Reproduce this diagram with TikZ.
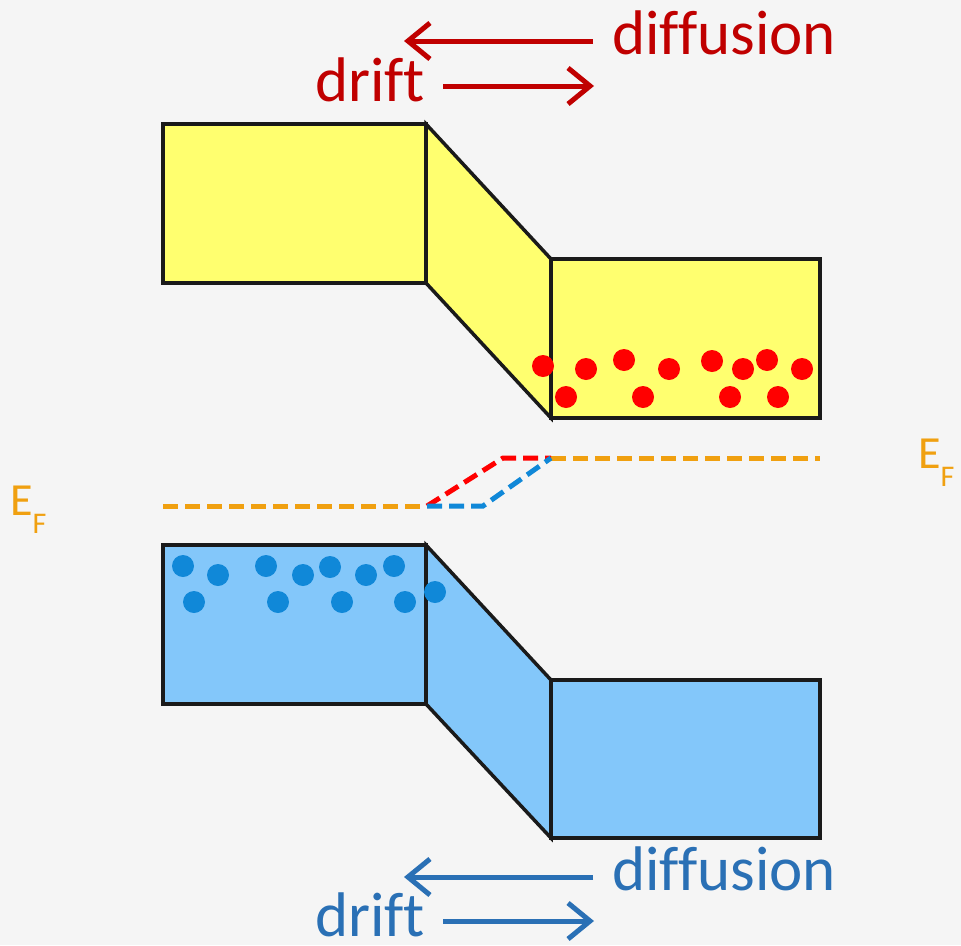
\documentclass[tikz,border=0pt]{standalone}
\usepackage{fontspec}
\setmainfont[Ligatures={NoCommon}]{Carlito}
\usetikzlibrary{arrows.meta}
\definecolor{bg}{RGB}{245,245,245}
\definecolor{band}{RGB}{255,255,111}
\definecolor{vband}{RGB}{131,199,250}
\definecolor{edot}{RGB}{255,0,0}
\definecolor{hdot}{RGB}{16,136,216}
\definecolor{fermi}{RGB}{240,160,16}
\definecolor{redtxt}{RGB}{192,0,0}
\definecolor{bluetxt}{RGB}{42,112,181}
\definecolor{outline}{RGB}{26,26,26}
\tikzset{
  bandbox/.style={draw=outline,line width=3.5pt,line join=miter},
  fermiline/.style={line width=5pt,dash pattern=on 15pt off 7pt},
  flowarrow/.style={line width=5pt,-{Straight Barb[length=22pt,width=36pt,line width=5pt]}},
  bigtext/.style={font=\fontsize{63}{70}\selectfont,inner sep=0pt,anchor=base west},
  eftext/.style={font=\fontsize{46}{50}\selectfont,text=fermi,inner sep=0pt,anchor=base west},
  electron/.style={circle,fill=edot,minimum size=22pt,inner sep=0pt},
  hole/.style={circle,fill=hdot,minimum size=22pt,inner sep=0pt}
}
\begin{document}
\begin{tikzpicture}[x=1pt,y=-1pt]
\fill[bg] (0,0) rectangle (961,945);
\useasboundingbox (0,0) rectangle (961,945);
% conduction band
\filldraw[band,bandbox] (163,124) rectangle (426,283);
\filldraw[band,bandbox] (426,124) -- (551,259) -- (551,418) -- (426,283) -- cycle;
\filldraw[band,bandbox] (551,259) rectangle (820,418);
% valence band
\filldraw[vband,bandbox] (163,545) rectangle (426,704);
\filldraw[vband,bandbox] (426,545) -- (551,680) -- (551,838) -- (426,704) -- cycle;
\filldraw[vband,bandbox] (551,680) rectangle (820,838);
% electrons
\foreach \x/\y [count=\i] in {543/366,586/369,624/360,669/369,712/361,743/369,767/360,802/369,566/397,643/397,730/397,778/397}
  \node[electron] (e\i) at (\x,\y) {};
% holes
\foreach \x/\y [count=\i] in {183/566,218/575,266/566,303/575,330/567,366/575,394/566,194/602,278/602,342/602,405/602,435/592}
  \node[hole] (h\i) at (\x,\y) {};
% Fermi levels
\coordinate (fl0) at (163,506);
\coordinate (fl1) at (427,506);
\coordinate (fr0) at (551,458);
\coordinate (fr1) at (820,458);
\coordinate (rk) at (503,458);
\coordinate (bk) at (483,506);
\draw[fermiline,fermi] (fl0) -- (fl1);
\draw[fermiline,fermi] (fr0) -- (fr1);
\draw[fermiline,edot] (fl1) -- (rk) -- (fr0);
\draw[fermiline,hdot] (fl1) -- (bk) -- (fr0);
\node[eftext] (efl) at (10,515) {E\raisebox{-0.4em}{\fontsize{30}{30}\selectfont F}};
\node[eftext] (efr) at (918,468) {E\raisebox{-0.4em}{\fontsize{30}{30}\selectfont F}};
% top arrows
\coordinate (td0) at (593,41);
\coordinate (td1) at (404,41);
\coordinate (tr0) at (443,86);
\coordinate (tr1) at (594,86);
\draw[flowarrow,redtxt] (td0) -- (td1);
\draw[flowarrow,redtxt] (tr0) -- (tr1);
\node[bigtext,text=redtxt] (tdiff) at (612,54) {diffusion};
\node[bigtext,text=redtxt] (tdrift) at (315,101) {drift};
% bottom arrows
\coordinate (bd0) at (593,877);
\coordinate (bd1) at (404,877);
\coordinate (br0) at (443,921);
\coordinate (br1) at (594,921);
\draw[flowarrow,bluetxt] (bd0) -- (bd1);
\draw[flowarrow,bluetxt] (br0) -- (br1);
\node[bigtext,text=bluetxt] (bdiff) at (612,890) {diffusion};
\node[bigtext,text=bluetxt] (bdrift) at (315,936) {drift};
\end{tikzpicture}
\end{document}
